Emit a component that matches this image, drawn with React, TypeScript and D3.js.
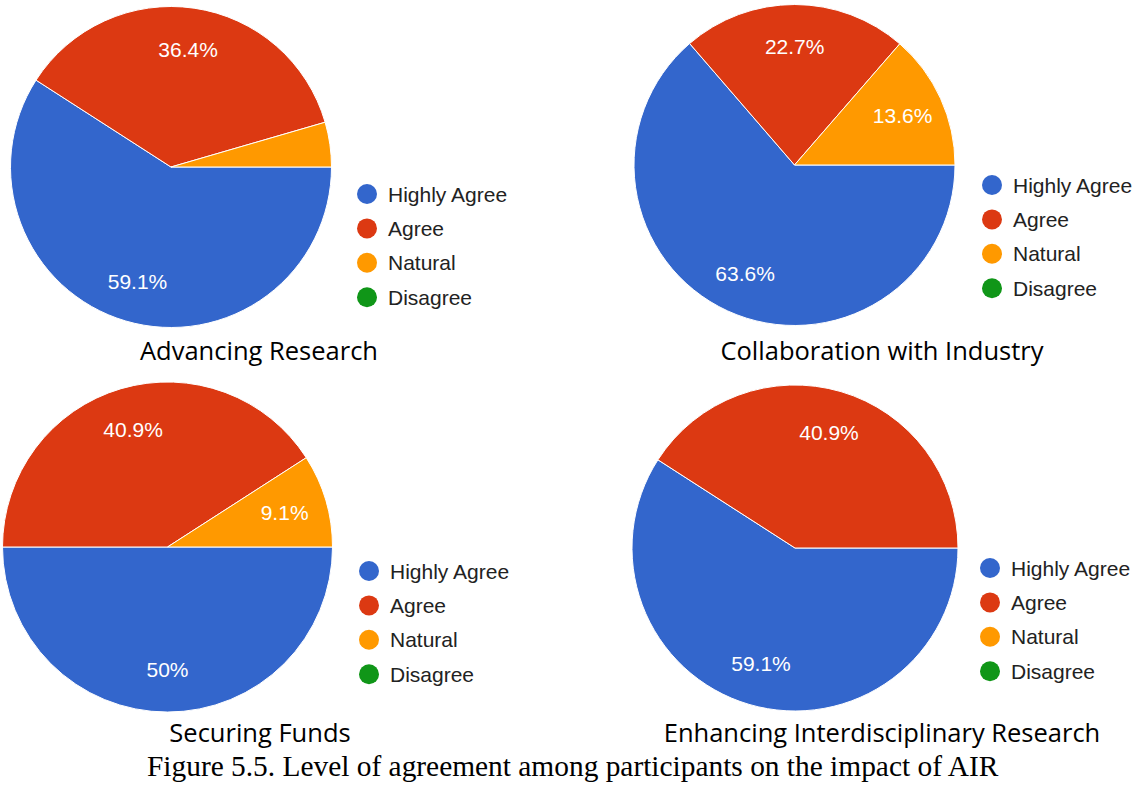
import React from "react";
import * as d3 from "d3";

// answer categories + google-ish palette
const categories = ["Highly Agree", "Agree", "Natural", "Disagree"];
const sliceColors = ["#3366cc", "#dc3912", "#ff9900", "#109618"];

// percent of participants per category, one list per chart
const advancingResearch = [59.1, 36.4, 4.5, 0];
const collaborationIndustry = [63.6, 22.7, 13.6, 0];
const securingFunds = [50, 40.9, 9.1, 0];
const interdisciplinaryResearch = [59.1, 40.9, 0, 0];

const chartTitles = [
  "Advancing Research",
  "Collaboration with Industry",
  "Securing Funds",
  "Enhancing Interdisciplinary Research",
];

const caption =
  "Figure 5.5. Level of agreement among participants on the impact of AIR";

const width = 1143,
  height = 786;

// layout of the four panels
const panels = [
  { values: advancingResearch, cx: 171, cy: 167, r: 160.5, lx: 367, ly: 194, tx: 259, ty: 360 },
  { values: collaborationIndustry, cx: 794.5, cy: 165, r: 160.5, lx: 992, ly: 185, tx: 882, ty: 360 },
  { values: securingFunds, cx: 167.5, cy: 547, r: 165, lx: 369, ly: 571, tx: 260, ty: 742 },
  { values: interdisciplinaryResearch, cx: 795, cy: 548, r: 163, lx: 990, ly: 568, tx: 882, ty: 742 },
];

const color = d3.scaleOrdinal<string, string>().domain(categories).range(sliceColors);
const fmt = d3.format(".1~f");

function PiePanel({ values, cx, cy, r, lx, ly, tx, ty, title }: any) {
  const pie = d3
    .pie<number>()
    .sort(null)
    .startAngle(Math.PI / 2)
    .endAngle(Math.PI / 2 + 2 * Math.PI);
  const arcs = pie(values);
  const arc = d3.arc<d3.PieArcDatum<number>>().innerRadius(0).outerRadius(r);
  const labelArc = d3
    .arc<d3.PieArcDatum<number>>()
    .innerRadius(r * 0.74)
    .outerRadius(r * 0.74);
  const rowY = d3.scaleLinear().domain([0, 1]).range([ly, ly + 34.4]);

  return (
    <g>
      <g transform={`translate(${cx},${cy})`}>
        {arcs.map((d, i) =>
          d.value > 0 ? (
            <path
              key={i}
              d={arc(d) || ""}
              fill={color(categories[i])}
              stroke="#fff"
              strokeWidth={1}
            />
          ) : null
        )}
        {arcs.map((d, i) => {
          // small slices (under 5%) get no label, like the original
          if (d.value < 5) return null;
          const [x, y] = labelArc.centroid(d);
          return (
            <text
              key={"l" + i}
              x={x}
              y={y}
              dy="0.36em"
              textAnchor="middle"
              fill="#fff"
              fontFamily="Liberation Sans, Arial, sans-serif"
              fontSize={21}
            >
              {fmt(d.value)}%
            </text>
          );
        })}
      </g>
      {categories.map((c, i) => (
        <g key={c} transform={`translate(${lx},${rowY(i)})`}>
          <circle r={10} fill={color(c)} />
          <text
            x={21}
            dy="0.36em"
            fill="#222"
            fontFamily="Liberation Sans, Arial, sans-serif"
            fontSize={21}
          >
            {c}
          </text>
        </g>
      ))}
      <text
        x={tx}
        y={ty}
        textAnchor="middle"
        fill="#000"
        fontFamily="Open Sans, sans-serif"
        fontSize={25.5}
      >
        {title}
      </text>
    </g>
  );
}

export default function App() {
  return (
    <svg
      width={width}
      height={height}
      style={{ position: "absolute", left: 0, top: 0, background: "#fff" }}
    >
      {panels.map((p, i) => (
        <PiePanel key={i} {...p} title={chartTitles[i]} />
      ))}
      <text
        x={147}
        y={776}
        fill="#000"
        fontFamily="Liberation Serif, Times New Roman, serif"
        fontSize={29.4}
      >
        {caption}
      </text>
    </svg>
  );
}
